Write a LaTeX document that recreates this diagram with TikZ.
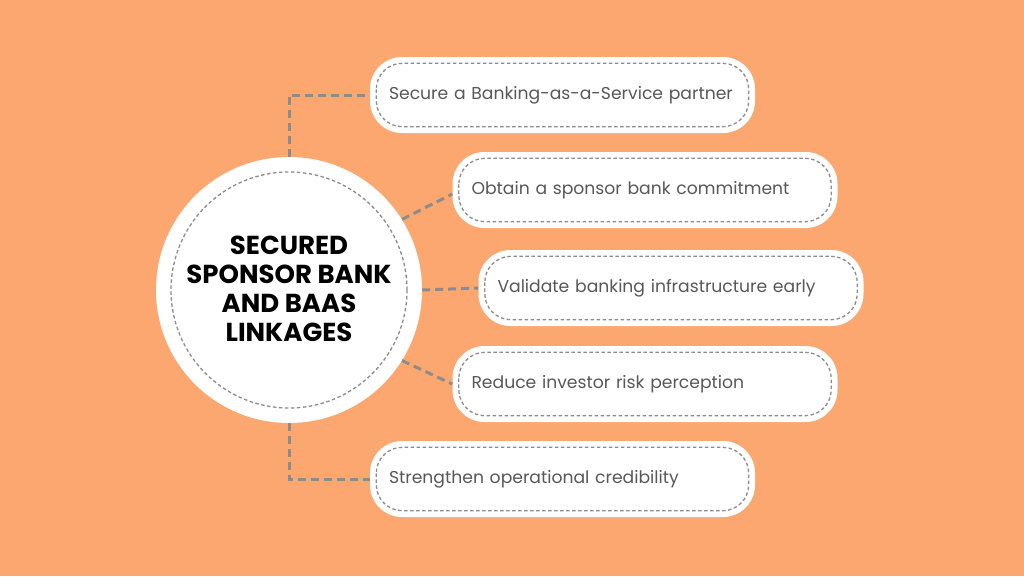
\documentclass[tikz,border=0pt]{standalone}
\usepackage{fontspec}
\setmainfont{Poppins}
\definecolor{bg}{RGB}{252,166,112}
\definecolor{dashgray}{RGB}{140,140,140}
\definecolor{txtgray}{RGB}{88,88,88}
\tikzset{
  conn/.style={draw=dashgray, line width=3pt, dash pattern=on 8pt off 5pt},
  innerdash/.style={draw=dashgray, line width=1.3pt, dash pattern=on 3.5pt off 2.5pt},
  itembox/.style={fill=white, rounded corners=32pt, minimum height=76pt, text width=347pt, inner xsep=19pt, align=left, font=\fontsize{17.2}{20}\selectfont, text=txtgray},
  hub/.style={circle, fill=white, minimum size=266pt, inner sep=0pt},
  title/.style={align=center, font=\fontsize{26}{29}\selectfont\bfseries, text=black}
}
\begin{document}
\begin{tikzpicture}[x=1pt,y=-1pt]
\fill[bg] (0,0) rectangle (1024,576);
\useasboundingbox (0,0) rectangle (1024,576);
\node[hub] (c) at (289,290) {};
\draw[innerdash] (c.center) circle[radius=118pt];
\node[title] (t) at (289,289) {SECURED\\SPONSOR BANK\\AND BAAS\\LINKAGES};
\node[itembox] (b1) at (562.5,95) {Secure a Banking-as-a-Service partner};
\node[itembox] (b2) at (645,190) {Obtain a sponsor bank commitment};
\node[itembox] (b3) at (671,288) {Validate banking infrastructure early};
\node[itembox] (b4) at (645,384) {Reduce investor risk perception};
\node[itembox] (b5) at (562.5,479) {Strengthen operational credibility};
\foreach \b in {b1,b2,b3,b4,b5}{
  \draw[innerdash, rounded corners=26pt] ([xshift=6.5pt,yshift=-6.5pt]\b.north west) rectangle ([xshift=-6.5pt,yshift=6.5pt]\b.south east);
}
\draw[conn] (c.north) |- (b1.west);
\draw[conn] (c.32) -- ([yshift=-4pt]b2.west);
\draw[conn] (c.east) -- (b3.west);
\draw[conn] (c.-32) -- (b4.west);
\draw[conn] (c.south) |- (b5.west);
\end{tikzpicture}
\end{document}
